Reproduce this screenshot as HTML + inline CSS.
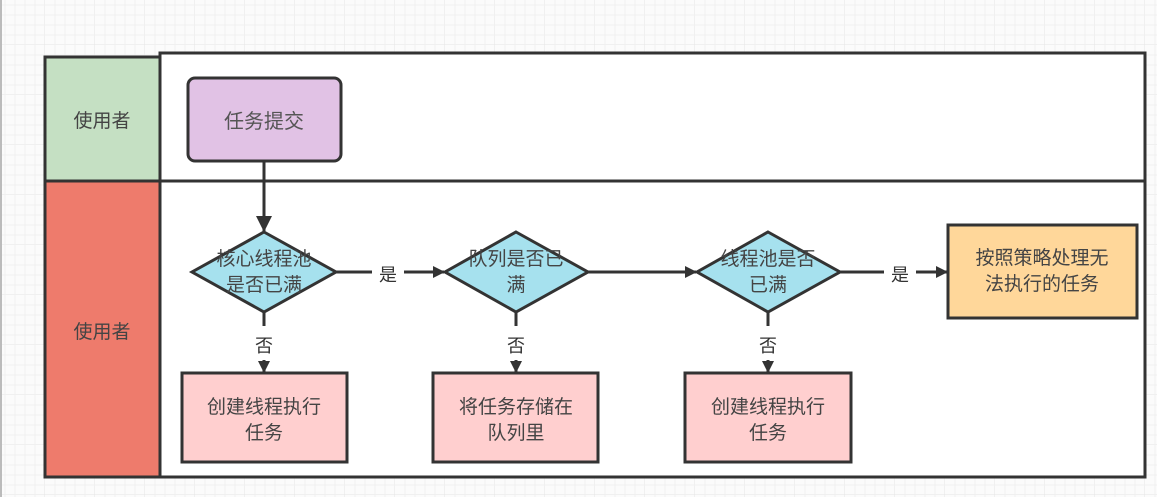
<!DOCTYPE html>
<html><head><meta charset="utf-8"><style>
html,body{margin:0;padding:0;background:#fafafa;}
svg{display:block;font-family:"Liberation Sans","Noto Sans CJK SC",sans-serif;}
</style></head><body>
<svg width="1157" height="497" viewBox="0 0 1157 497" xmlns="http://www.w3.org/2000/svg">
<defs>
<pattern id="g" width="50" height="50" patternUnits="userSpaceOnUse" x="-5" y="-5">
<path d="M50 0V50M0 50H50" stroke="#e6e6e6" stroke-width="1" fill="none"/>
<path d="M10 0V50M20 0V50M30 0V50M40 0V50M0 10H50M0 20H50M0 30H50M0 40H50" stroke="#f0f0f0" stroke-width="1" fill="none"/>
</pattern>
<marker id="a" markerWidth="12" markerHeight="12" refX="11" refY="6" orient="auto" markerUnits="userSpaceOnUse"><path d="M0 0L12 6L0 12Z" fill="#333"/></marker>
<marker id="b" markerWidth="16" markerHeight="16" refX="15" refY="8" orient="auto" markerUnits="userSpaceOnUse"><path d="M0 0L16 8L0 16Z" fill="#333"/></marker>
</defs>
<rect width="1157" height="497" fill="#fbfbfb"/>
<rect width="1157" height="497" fill="url(#g)"/>
<line x1="1" y1="0" x2="1" y2="497" stroke="#bbb" stroke-width="2"/>
<rect x="160" y="53" width="985" height="128" fill="#fff" stroke="#333" stroke-width="3"/>
<rect x="160" y="181" width="985" height="296" fill="#fff" stroke="#333" stroke-width="3"/>
<rect x="45" y="57" width="115" height="124" fill="#c5e0c3" stroke="#333" stroke-width="3"/>
<rect x="45" y="181" width="115" height="296" fill="#ee7b6c" stroke="#333" stroke-width="3"/>
<g font-size="19" fill="#444" text-anchor="middle">
<text x="102" y="127">使用者</text>
<text x="102" y="338">使用者</text>
</g>
<rect x="188" y="78" width="153" height="83" rx="7" fill="#e1c2e5" stroke="#333" stroke-width="3"/>
<text x="264" y="128" font-size="20" fill="#555" text-anchor="middle">任务提交</text>
<line x1="264" y1="161" x2="264" y2="231" stroke="#333" stroke-width="3" marker-end="url(#b)"/>
<g fill="#a6e1ee" stroke="#333" stroke-width="3">
<polygon points="264,232 336,272 264,312 192,272"/>
<polygon points="516,232 588,272 516,312 445,272"/>
<polygon points="768,232 840,272 768,312 697,272"/>
</g>
<g font-size="19" fill="#444" text-anchor="middle">
<text x="264" y="265">核心线程池</text><text x="264" y="291">是否已满</text>
<text x="516" y="265">队列是否已</text><text x="516" y="291">满</text>
<text x="768" y="265">线程池是否</text><text x="768" y="291">已满</text>
</g>
<g stroke="#333" stroke-width="3">
<line x1="336" y1="272" x2="372" y2="272"/>
<line x1="404" y1="272" x2="444" y2="272" marker-end="url(#a)"/>
<line x1="588" y1="272" x2="696" y2="272" marker-end="url(#a)"/>
<line x1="840" y1="272" x2="884" y2="272"/>
<line x1="916" y1="272" x2="947" y2="272" marker-end="url(#a)"/>
</g>
<g font-size="18" fill="#333" text-anchor="middle">
<text x="388" y="281">是</text>
<text x="900" y="281">是</text>
</g>
<g stroke="#333" stroke-width="3">
<line x1="264" y1="312" x2="264" y2="326"/><line x1="264" y1="360" x2="264" y2="372" marker-end="url(#a)"/>
<line x1="516" y1="312" x2="516" y2="326"/><line x1="516" y1="360" x2="516" y2="372" marker-end="url(#a)"/>
<line x1="768" y1="312" x2="768" y2="326"/><line x1="768" y1="360" x2="768" y2="372" marker-end="url(#a)"/>
</g>
<g font-size="18" fill="#333" text-anchor="middle">
<text x="264" y="352">否</text><text x="516" y="352">否</text><text x="768" y="352">否</text>
</g>
<g fill="#ffcfcf" stroke="#333" stroke-width="3">
<rect x="182" y="373" width="165" height="89"/>
<rect x="433" y="373" width="165" height="89"/>
<rect x="685" y="373" width="166" height="89"/>
</g>
<rect x="948" y="225" width="189" height="93" fill="#ffd79a" stroke="#333" stroke-width="3"/>
<g font-size="19" fill="#444" text-anchor="middle">
<text x="264" y="413">创建线程执行</text><text x="264" y="439">任务</text>
<text x="516" y="413">将任务存储在</text><text x="516" y="439">队列里</text>
<text x="768" y="413">创建线程执行</text><text x="768" y="439">任务</text>
<text x="1042" y="264">按照策略处理无</text><text x="1042" y="290">法执行的任务</text>
</g>
</svg>
</body></html>
